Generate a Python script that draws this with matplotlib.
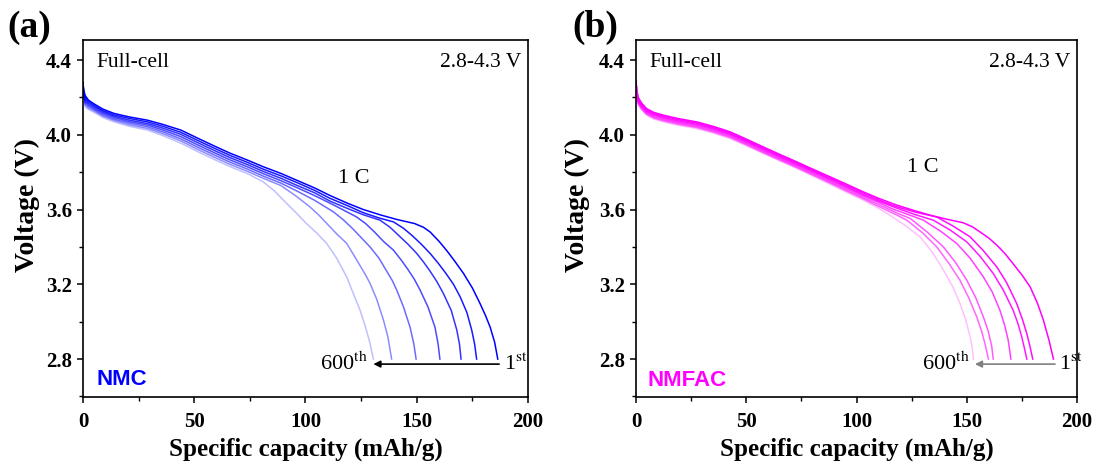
import numpy as np
import matplotlib.pyplot as plt
from matplotlib.ticker import MultipleLocator

# ---------- (a) NMC, cycles 1st -> 600th ----------
# capacity points shared by the upper part of every curve (mAh/g)
nmc_cap_top = [0, 0.3, 1, 2.5, 5, 9, 14, 21, 29, 36, 44, 51, 59, 66, 74, 81, 89]
nmc_cap_tail = [
    [96, 104, 111, 119, 126, 134, 141, 149, 153, 156, 160, 163.5, 167, 171, 175, 178.4, 181, 183, 185, 186.4],
    [96, 104, 111, 119, 126, 133, 139.5, 144, 148, 152, 156, 159.5, 163, 166.5, 169.5, 172.5, 174.7, 176, 176.9],
    [96, 104, 111, 119, 126, 133.5, 138, 142, 146, 150, 153, 156, 159, 162, 165.5, 168, 169.2, 169.9],
    [96, 104, 110, 115, 119, 123, 127, 131, 135, 139.5, 143, 146, 149, 151.5, 155, 158.2, 159.6, 160.4],
    [96, 104, 112.5, 117, 121, 125, 129, 133, 136, 139, 141, 144, 147, 148.7, 149.7],
    [96, 102, 106, 110, 114, 118.5, 121.5, 124, 127, 129, 132, 135, 137, 138.7],
    [81, 86, 91.5, 96, 100, 105, 109.5, 114, 118.5, 121.5, 124.5, 127, 129, 130.5],
]
nmc_volt = [
    [4.28, 4.24, 4.21, 4.185, 4.165, 4.137, 4.114, 4.095, 4.078, 4.055, 4.025, 3.985, 3.94, 3.902, 3.864, 3.829, 3.793,
     3.757, 3.716, 3.675, 3.633, 3.60, 3.57, 3.547, 3.525, 3.505, 3.48, 3.43, 3.38, 3.325, 3.258, 3.18, 3.098, 3.03, 2.97, 2.89, 2.80],
    [4.278, 4.235, 4.20, 4.177, 4.157, 4.129, 4.106, 4.087, 4.069, 4.045, 4.013, 3.973, 3.928, 3.89, 3.852, 3.816, 3.78,
     3.745, 3.703, 3.66, 3.62, 3.583, 3.555, 3.534, 3.50, 3.46, 3.415, 3.365, 3.315, 3.26, 3.20, 3.133, 3.05, 2.955, 2.88, 2.80],
    [4.277, 4.23, 4.19, 4.168, 4.15, 4.122, 4.099, 4.078, 4.06, 4.035, 4.002, 3.961, 3.916, 3.878, 3.84, 3.804, 3.767,
     3.73, 3.69, 3.645, 3.605, 3.572, 3.543, 3.505, 3.46, 3.415, 3.365, 3.32, 3.27, 3.215, 3.15, 3.06, 2.955, 2.88, 2.80],
    [4.275, 4.225, 4.18, 4.16, 4.142, 4.115, 4.092, 4.07, 4.052, 4.025, 3.99, 3.949, 3.904, 3.866, 3.828, 3.792, 3.754,
     3.718, 3.675, 3.64, 3.61, 3.585, 3.56, 3.525, 3.48, 3.43, 3.383, 3.33, 3.28, 3.225, 3.169, 3.08, 2.97, 2.88, 2.80],
    [4.273, 4.22, 4.17, 4.152, 4.135, 4.107, 4.084, 4.062, 4.043, 4.015, 3.978, 3.937, 3.892, 3.854, 3.816, 3.779, 3.741,
     3.70, 3.65, 3.588, 3.545, 3.50, 3.45, 3.40, 3.34, 3.28, 3.22, 3.169, 3.08, 2.97, 2.88, 2.80],
    [4.272, 4.215, 4.16, 4.143, 4.128, 4.10, 4.077, 4.053, 4.034, 4.005, 3.967, 3.925, 3.88, 3.842, 3.804, 3.767, 3.728,
     3.67, 3.614, 3.57, 3.52, 3.47, 3.419, 3.36, 3.31, 3.25, 3.205, 3.12, 3.01, 2.92, 2.80],
    [4.27, 4.21, 4.15, 4.135, 4.12, 4.092, 4.069, 4.045, 4.025, 3.995, 3.955, 3.913, 3.868, 3.83, 3.792,
     3.748, 3.70, 3.633, 3.58, 3.53, 3.475, 3.419, 3.34, 3.24, 3.15, 3.062, 2.97, 2.884, 2.80],
]

# ---------- (b) NMFAC, cycles 1st -> 600th ----------
nmfac_cap_top = [0, 0.3, 1, 2.5, 4.8, 8, 12.4, 19, 27.5, 35, 42.6, 50, 57.7, 65, 72.9, 80, 88, 95, 103]
nmfac_cap_tail = [
    [110, 118.2, 126, 133.3, 141, 148.4, 152.5, 156, 160, 163.6, 167.5, 171, 175, 178.7, 182, 184.7, 187.3, 189.3],
    [110, 118.2, 127, 136.4, 144, 151.5, 157.5, 163.6, 168, 172.6, 175.3, 177.2, 178.8, 179.9],
    [110, 118.2, 126, 134.8, 142.5, 150, 156, 162, 166.5, 171, 173.2, 174.9, 176.3, 177.2],
    [110, 116, 123, 130.3, 138, 145.4, 151.5, 157.5, 161.5, 165, 167.2, 168.8, 170],
    [108.5, 114, 119, 124.4, 132, 139.4, 145, 150, 154, 157.5, 159.7, 161.3, 162],
    [108, 113, 118, 122.8, 130, 136.4, 142, 146.9, 151, 154.5, 156.7, 158.3, 159.8],
    [108.5, 113.7, 121.5, 128.8, 134.5, 139.4, 143.5, 146.9, 149.5, 151.5, 152.5, 153],
]
nmfac_volt = [
    [4.29, 4.24, 4.20, 4.17, 4.14, 4.12, 4.105, 4.087, 4.069, 4.045, 4.016, 3.977, 3.935, 3.896, 3.855, 3.817, 3.775, 3.738, 3.695,
     3.66, 3.624, 3.595, 3.57, 3.548, 3.529, 3.508, 3.48, 3.447, 3.41, 3.362, 3.31, 3.25, 3.187, 3.10, 3.01, 2.90, 2.80],
    [4.288, 4.235, 4.193, 4.164, 4.134, 4.114, 4.099, 4.081, 4.063, 4.039, 4.01, 3.971, 3.929, 3.89, 3.849, 3.811, 3.768, 3.731, 3.688,
     3.652, 3.615, 3.585, 3.56, 3.51, 3.454, 3.38, 3.293, 3.21, 3.098, 3.01, 2.937, 2.86, 2.80],
    [4.287, 4.23, 4.187, 4.158, 4.128, 4.108, 4.093, 4.075, 4.057, 4.033, 4.004, 3.965, 3.923, 3.884, 3.843, 3.805, 3.762, 3.724, 3.68,
     3.645, 3.608, 3.575, 3.543, 3.49, 3.427, 3.35, 3.258, 3.17, 3.062, 2.99, 2.92, 2.85, 2.80],
    [4.285, 4.225, 4.18, 4.152, 4.122, 4.102, 4.087, 4.069, 4.051, 4.027, 3.998, 3.959, 3.917, 3.878, 3.837, 3.799, 3.755, 3.717, 3.673,
     3.638, 3.605, 3.575, 3.543, 3.485, 3.419, 3.34, 3.24, 3.16, 3.062, 2.98, 2.90, 2.80],
    [4.283, 4.22, 4.173, 4.145, 4.116, 4.096, 4.081, 4.063, 4.045, 4.021, 3.992, 3.953, 3.911, 3.872, 3.831, 3.792, 3.748, 3.709, 3.665,
     3.635, 3.605, 3.578, 3.552, 3.48, 3.40, 3.315, 3.222, 3.13, 3.026, 2.95, 2.87, 2.80],
    [4.282, 4.215, 4.167, 4.139, 4.11, 4.09, 4.075, 4.057, 4.039, 4.015, 3.986, 3.947, 3.905, 3.866, 3.825, 3.786, 3.742, 3.702, 3.658,
     3.628, 3.60, 3.572, 3.543, 3.475, 3.40, 3.31, 3.222, 3.125, 3.026, 2.95, 2.88, 2.80],
    [4.28, 4.21, 4.16, 4.133, 4.105, 4.084, 4.069, 4.051, 4.033, 4.009, 3.98, 3.941, 3.90, 3.861, 3.82, 3.78, 3.735, 3.695, 3.65,
     3.617, 3.58, 3.52, 3.454, 3.37, 3.276, 3.19, 3.098, 3.01, 2.92, 2.86, 2.80],
]

nmc_alpha = [1.0, 0.9, 0.8, 0.7, 0.58, 0.45, 0.25]
nmfac_alpha = [1.0, 0.95, 0.9, 0.75, 0.65, 0.6, 0.25]


def montar(topo, caudas, volts):
    caps = []
    for cauda, v in zip(caudas, volts):
        n = len(v) - len(cauda)
        caps.append(topo[:n] + cauda)
    return caps


nmc_cap = montar(nmc_cap_top, nmc_cap_tail, nmc_volt)
nmfac_cap = montar(nmfac_cap_top, nmfac_cap_tail, nmfac_volt)

plt.rcParams['font.family'] = ['Liberation Serif', 'DejaVu Serif']
plt.rcParams['mathtext.fontset'] = 'stix'

fig = plt.figure(figsize=(10.93, 4.62), dpi=100)
ax1 = fig.add_axes([0.0759, 0.1407, 0.4072, 0.7727])
ax2 = fig.add_axes([0.5819, 0.1407, 0.4035, 0.7727])


def painel(ax, caps, volts, alphas, cor, nome, pos_nome, pos_1c, seta, cor_seta, letra, x_letra, x_ylab):
    for c, v, a in zip(caps, volts, alphas):
        ax.plot(c, v, color=cor, alpha=a, lw=1.1)

    ax.set_xlim(0, 200)
    ax.set_ylim(2.597, 4.507)
    ax.xaxis.set_major_locator(MultipleLocator(50))
    ax.xaxis.set_minor_locator(MultipleLocator(25))
    ax.yaxis.set_major_locator(MultipleLocator(0.4))
    ax.yaxis.set_minor_locator(MultipleLocator(0.2))
    ax.tick_params(which='major', direction='out', length=4, width=1.1, labelsize=15, pad=4)
    ax.tick_params(axis='x', which='major', pad=7)
    ax.tick_params(which='minor', direction='out', length=3, width=1.0)
    for lab in ax.get_xticklabels() + ax.get_yticklabels():
        lab.set_fontweight('bold')
    for s in ax.spines.values():
        s.set_linewidth(1.2)

    ax.set_xlabel('Specific capacity (mAh/g)', fontsize=18, fontweight='bold', labelpad=3.5)
    ax.set_ylabel('Voltage (V)', fontsize=20, fontweight='bold')
    ax.yaxis.set_label_coords(x_ylab, 0.538)

    ax.text(0.031, 0.965, 'Full-cell', transform=ax.transAxes, fontsize=15.5, va='top', ha='left')
    ax.text(0.984, 0.965, '2.8-4.3 V', transform=ax.transAxes, fontsize=15.5, va='top', ha='right')
    ax.text(pos_1c[0], pos_1c[1], '1 C', fontsize=16, ha='left', va='center')
    ax.text(pos_nome[0], pos_nome[1], nome, transform=ax.transAxes, fontsize=16, fontweight='bold',
            color=cor, family=['Liberation Sans', 'DejaVu Sans'], va='center', ha='left')

    ax.annotate('', xy=(seta[1], 2.773), xytext=(seta[0], 2.773),
                arrowprops=dict(arrowstyle='-|>', color=cor_seta, lw=1.2,
                                mutation_scale=10, shrinkA=0, shrinkB=0))
    ax.text(seta[0] + 2, 2.773, '1$^{\\mathrm{st}}$', fontsize=16, ha='left', va='center')
    ax.text(seta[1] - 2.5, 2.773, '600$^{\\mathrm{th}}$', fontsize=16, ha='right', va='center')

    ax.text(x_letra, 1.008, letra, transform=ax.transAxes, fontsize=27, fontweight='bold',
            ha='left', va='baseline')


painel(ax1, nmc_cap, nmc_volt, nmc_alpha, '#0000ff', 'NMC', (0.031, 0.05), (114.6, 3.768),
       (187, 130.5), 'black', '(a)', -0.169, -0.097)
painel(ax2, nmfac_cap, nmfac_volt, nmfac_alpha, '#ff00ff', 'NMFAC', (0.025, 0.047), (122.9, 3.827),
       (190, 153.7), '#808080', '(b)', -0.145, -0.104)

plt.savefig('out.png', dpi=100)
